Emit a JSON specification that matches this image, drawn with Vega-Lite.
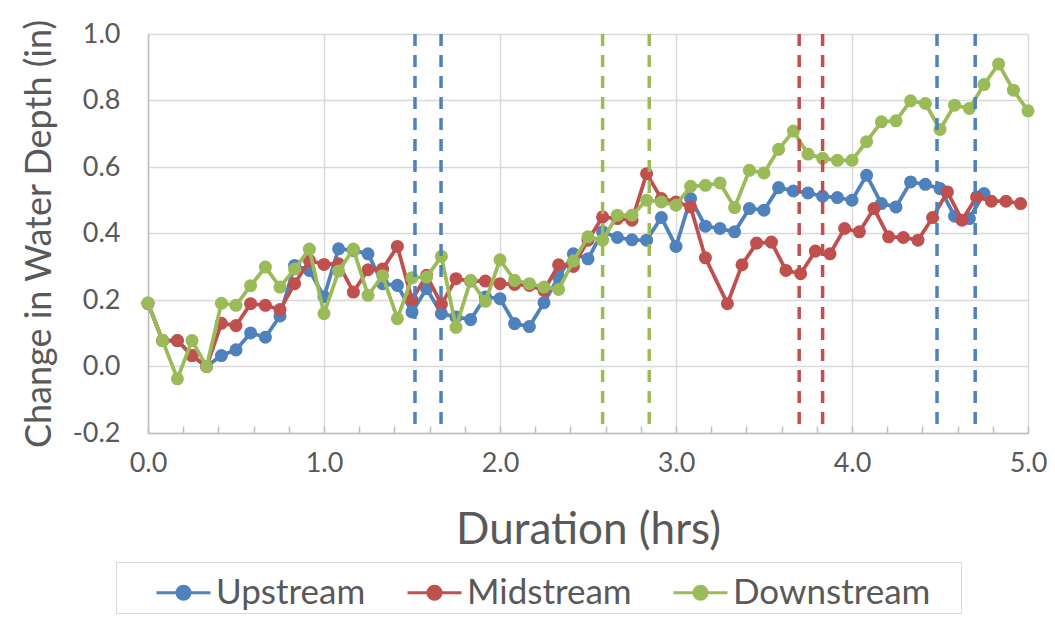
{
  "$schema": "https://vega.github.io/schema/vega-lite/v6.json",
  "width": 880,
  "height": 399,
  "autosize": {"type": "none"},
  "padding": {"left": 148, "top": 34, "right": 27, "bottom": 194},
  "background": "white",
  "config": {
    "view": {"stroke": null},
    "font": "Lato",
    "axis": {"labelFont": "Lato", "titleFont": "Lato", "labelColor": "#595959", "titleColor": "#595959", "titleFontWeight": "normal"}
  },
  "datasets": {
    "series": [
      {"t":0,"s":"Upstream","v":0.19},{"t":0.083,"s":"Upstream","v":0.078},{"t":0.167,"s":"Upstream","v":0.078},{"t":0.25,"s":"Upstream","v":0.033},{"t":0.333,"s":"Upstream","v":0.0},{"t":0.417,"s":"Upstream","v":0.033},{"t":0.5,"s":"Upstream","v":0.05},{"t":0.583,"s":"Upstream","v":0.101},{"t":0.667,"s":"Upstream","v":0.088},{"t":0.75,"s":"Upstream","v":0.152},{"t":0.833,"s":"Upstream","v":0.304},{"t":0.917,"s":"Upstream","v":0.289},{"t":1,"s":"Upstream","v":0.21},{"t":1.083,"s":"Upstream","v":0.354},{"t":1.167,"s":"Upstream","v":0.349},{"t":1.25,"s":"Upstream","v":0.339},{"t":1.333,"s":"Upstream","v":0.249},{"t":1.417,"s":"Upstream","v":0.244},{"t":1.5,"s":"Upstream","v":0.164},{"t":1.583,"s":"Upstream","v":0.234},{"t":1.667,"s":"Upstream","v":0.159},{"t":1.75,"s":"Upstream","v":0.149},{"t":1.833,"s":"Upstream","v":0.141},{"t":1.917,"s":"Upstream","v":0.209},{"t":2,"s":"Upstream","v":0.204},{"t":2.083,"s":"Upstream","v":0.129},{"t":2.167,"s":"Upstream","v":0.12},{"t":2.25,"s":"Upstream","v":0.192},{"t":2.333,"s":"Upstream","v":0.269},{"t":2.417,"s":"Upstream","v":0.339},{"t":2.5,"s":"Upstream","v":0.324},{"t":2.583,"s":"Upstream","v":0.405},{"t":2.667,"s":"Upstream","v":0.388},{"t":2.75,"s":"Upstream","v":0.381},{"t":2.833,"s":"Upstream","v":0.38},{"t":2.917,"s":"Upstream","v":0.448},{"t":3,"s":"Upstream","v":0.361},{"t":3.083,"s":"Upstream","v":0.505},{"t":3.167,"s":"Upstream","v":0.422},{"t":3.25,"s":"Upstream","v":0.415},{"t":3.333,"s":"Upstream","v":0.405},{"t":3.417,"s":"Upstream","v":0.475},{"t":3.5,"s":"Upstream","v":0.47},{"t":3.583,"s":"Upstream","v":0.538},{"t":3.667,"s":"Upstream","v":0.528},{"t":3.75,"s":"Upstream","v":0.522},{"t":3.833,"s":"Upstream","v":0.512},{"t":3.917,"s":"Upstream","v":0.508},{"t":4,"s":"Upstream","v":0.5},{"t":4.083,"s":"Upstream","v":0.575},{"t":4.167,"s":"Upstream","v":0.49},{"t":4.25,"s":"Upstream","v":0.48},{"t":4.333,"s":"Upstream","v":0.555},{"t":4.417,"s":"Upstream","v":0.548},{"t":4.5,"s":"Upstream","v":0.535},{"t":4.583,"s":"Upstream","v":0.452},{"t":4.667,"s":"Upstream","v":0.445},{"t":4.75,"s":"Upstream","v":0.52},
      {"t":0,"s":"Midstream","v":0.19},{"t":0.083,"s":"Midstream","v":0.078},{"t":0.167,"s":"Midstream","v":0.078},{"t":0.25,"s":"Midstream","v":0.033},{"t":0.333,"s":"Midstream","v":0.0},{"t":0.417,"s":"Midstream","v":0.13},{"t":0.5,"s":"Midstream","v":0.123},{"t":0.583,"s":"Midstream","v":0.189},{"t":0.667,"s":"Midstream","v":0.184},{"t":0.75,"s":"Midstream","v":0.171},{"t":0.833,"s":"Midstream","v":0.249},{"t":0.917,"s":"Midstream","v":0.319},{"t":1,"s":"Midstream","v":0.307},{"t":1.083,"s":"Midstream","v":0.309},{"t":1.167,"s":"Midstream","v":0.224},{"t":1.25,"s":"Midstream","v":0.291},{"t":1.333,"s":"Midstream","v":0.293},{"t":1.417,"s":"Midstream","v":0.361},{"t":1.5,"s":"Midstream","v":0.201},{"t":1.583,"s":"Midstream","v":0.274},{"t":1.667,"s":"Midstream","v":0.187},{"t":1.75,"s":"Midstream","v":0.264},{"t":1.833,"s":"Midstream","v":0.257},{"t":1.917,"s":"Midstream","v":0.257},{"t":2,"s":"Midstream","v":0.249},{"t":2.083,"s":"Midstream","v":0.247},{"t":2.167,"s":"Midstream","v":0.244},{"t":2.25,"s":"Midstream","v":0.229},{"t":2.333,"s":"Midstream","v":0.306},{"t":2.417,"s":"Midstream","v":0.301},{"t":2.5,"s":"Midstream","v":0.38},{"t":2.583,"s":"Midstream","v":0.45},{"t":2.667,"s":"Midstream","v":0.445},{"t":2.75,"s":"Midstream","v":0.44},{"t":2.833,"s":"Midstream","v":0.58},{"t":2.917,"s":"Midstream","v":0.505},{"t":3,"s":"Midstream","v":0.495},{"t":3.083,"s":"Midstream","v":0.48},{"t":3.167,"s":"Midstream","v":0.327},{"t":3.292,"s":"Midstream","v":0.189},{"t":3.375,"s":"Midstream","v":0.306},{"t":3.458,"s":"Midstream","v":0.371},{"t":3.542,"s":"Midstream","v":0.374},{"t":3.625,"s":"Midstream","v":0.289},{"t":3.708,"s":"Midstream","v":0.279},{"t":3.792,"s":"Midstream","v":0.347},{"t":3.875,"s":"Midstream","v":0.339},{"t":3.958,"s":"Midstream","v":0.415},{"t":4.042,"s":"Midstream","v":0.405},{"t":4.125,"s":"Midstream","v":0.475},{"t":4.208,"s":"Midstream","v":0.39},{"t":4.292,"s":"Midstream","v":0.388},{"t":4.375,"s":"Midstream","v":0.38},{"t":4.458,"s":"Midstream","v":0.448},{"t":4.542,"s":"Midstream","v":0.525},{"t":4.625,"s":"Midstream","v":0.44},{"t":4.708,"s":"Midstream","v":0.51},{"t":4.792,"s":"Midstream","v":0.497},{"t":4.875,"s":"Midstream","v":0.497},{"t":4.958,"s":"Midstream","v":0.49},
      {"t":0,"s":"Downstream","v":0.191},{"t":0.083,"s":"Downstream","v":0.078},{"t":0.167,"s":"Downstream","v":-0.037},{"t":0.25,"s":"Downstream","v":0.078},{"t":0.333,"s":"Downstream","v":0.0},{"t":0.417,"s":"Downstream","v":0.19},{"t":0.5,"s":"Downstream","v":0.184},{"t":0.583,"s":"Downstream","v":0.243},{"t":0.667,"s":"Downstream","v":0.299},{"t":0.75,"s":"Downstream","v":0.239},{"t":0.833,"s":"Downstream","v":0.293},{"t":0.917,"s":"Downstream","v":0.353},{"t":1,"s":"Downstream","v":0.159},{"t":1.083,"s":"Downstream","v":0.287},{"t":1.167,"s":"Downstream","v":0.353},{"t":1.25,"s":"Downstream","v":0.214},{"t":1.333,"s":"Downstream","v":0.273},{"t":1.417,"s":"Downstream","v":0.144},{"t":1.5,"s":"Downstream","v":0.267},{"t":1.583,"s":"Downstream","v":0.269},{"t":1.667,"s":"Downstream","v":0.331},{"t":1.75,"s":"Downstream","v":0.118},{"t":1.833,"s":"Downstream","v":0.259},{"t":1.917,"s":"Downstream","v":0.196},{"t":2,"s":"Downstream","v":0.321},{"t":2.083,"s":"Downstream","v":0.259},{"t":2.167,"s":"Downstream","v":0.249},{"t":2.25,"s":"Downstream","v":0.239},{"t":2.333,"s":"Downstream","v":0.232},{"t":2.417,"s":"Downstream","v":0.317},{"t":2.5,"s":"Downstream","v":0.39},{"t":2.583,"s":"Downstream","v":0.38},{"t":2.667,"s":"Downstream","v":0.455},{"t":2.75,"s":"Downstream","v":0.455},{"t":2.833,"s":"Downstream","v":0.5},{"t":2.917,"s":"Downstream","v":0.495},{"t":3,"s":"Downstream","v":0.485},{"t":3.083,"s":"Downstream","v":0.542},{"t":3.167,"s":"Downstream","v":0.545},{"t":3.25,"s":"Downstream","v":0.552},{"t":3.333,"s":"Downstream","v":0.478},{"t":3.417,"s":"Downstream","v":0.59},{"t":3.5,"s":"Downstream","v":0.582},{"t":3.583,"s":"Downstream","v":0.653},{"t":3.667,"s":"Downstream","v":0.708},{"t":3.75,"s":"Downstream","v":0.639},{"t":3.833,"s":"Downstream","v":0.626},{"t":3.917,"s":"Downstream","v":0.62},{"t":4,"s":"Downstream","v":0.62},{"t":4.083,"s":"Downstream","v":0.676},{"t":4.167,"s":"Downstream","v":0.736},{"t":4.25,"s":"Downstream","v":0.739},{"t":4.333,"s":"Downstream","v":0.799},{"t":4.417,"s":"Downstream","v":0.791},{"t":4.5,"s":"Downstream","v":0.713},{"t":4.583,"s":"Downstream","v":0.786},{"t":4.667,"s":"Downstream","v":0.776},{"t":4.75,"s":"Downstream","v":0.848},{"t":4.833,"s":"Downstream","v":0.91},{"t":4.917,"s":"Downstream","v":0.831},{"t":5,"s":"Downstream","v":0.769}
    ],
    "events": [
      {"t":1.517,"s":"Upstream"},{"t":1.665,"s":"Upstream"},
      {"t":2.583,"s":"Downstream"},{"t":2.848,"s":"Downstream"},
      {"t":3.7,"s":"Midstream"},{"t":3.833,"s":"Midstream"},
      {"t":4.483,"s":"Upstream"},{"t":4.7,"s":"Upstream"}
    ]
  },
  "encoding": {
    "x": {
      "field": "t", "type": "quantitative",
      "scale": {"domain": [0, 5], "nice": false, "zero": false},
      "axis": {
        "title": "Duration (hrs)", "titleFontSize": 44, "titlePadding": 32,
        "values": [0,0.2,0.4,0.6,0.8,1,1.2,1.4,1.6,1.8,2,2.2,2.4,2.6,2.8,3,3.2,3.4,3.6,3.8,4,4.2,4.4,4.6,4.8,5],
        "labelExpr": "datum.value % 1 === 0 ? format(datum.value, '.1f') : ''",
        "labelFontSize": 27, "labelPadding": 24, "labelFlush": false, "labelOverlap": false,
        "ticks": true, "tickSize": -7, "tickColor": "#bfbfbf", "tickWidth": 1.5,
        "grid": true, "gridColor": "#d9d9d9", "gridWidth": 1.5,
        "gridOpacity": {"condition": {"test": "datum.value % 1 !== 0", "value": 0}, "value": 1},
        "domainColor": "#bfbfbf", "domainWidth": 1.5
      }
    },
    "color": {
      "field": "s", "type": "nominal",
      "scale": {"domain": ["Upstream", "Midstream", "Downstream"], "range": ["#4F81BD", "#C0504D", "#9BBB59"]},
      "legend": {
        "title": "MMM", "titleOrient": "right", "titleFontSize": 10, "titlePadding": 0, "titleOpacity": 0,
        "orient": "none", "legendX": -32, "legendY": 528,
        "direction": "horizontal", "columns": 3, "columnPadding": 3,
        "symbolType": "M-1,0H1M-0.24,0A0.24,0.24,0,1,1,0.24,0A0.24,0.24,0,1,1,-0.24,0Z",
        "symbolSize": 2916, "symbolStrokeWidth": 3, "symbolOffset": 37,
        "labelFontSize": 35, "labelColor": "#595959", "labelFont": "Lato", "labelOffset": 4, "labelLimit": 400,
        "strokeColor": "#d9d9d9", "padding": 2,
        "encode": {"symbols": {"update": {"fill": {"scale": "color", "field": "value"}, "stroke": {"scale": "color", "field": "value"}, "strokeWidth": {"value": 3}, "opacity": {"value": 1}}}}
      }
    }
  },
  "layer": [
    {"data": {"name": "series"}, "transform": [{"filter": "datum.s === 'Upstream'"}], "mark": {"type": "line", "strokeWidth": 3.75},
     "encoding": {"y": {"field": "v", "type": "quantitative", "scale": {"domain": [-0.2, 1.0], "nice": false, "zero": false},
       "axis": {"title": "Change in Water Depth (in)", "titleFontSize": 36, "titlePadding": 14, "values": [-0.2,0,0.2,0.4,0.6,0.8,1.0],
         "labelExpr": "datum.value < 0 ? '-' + format(-datum.value, '.1f') : format(datum.value, '.1f')", "labelFontSize": 27, "labelPadding": 28,
         "ticks": false, "grid": true, "gridColor": "#d9d9d9", "gridWidth": 1.5, "domainColor": "#bfbfbf", "domainWidth": 1.5}}}},
    {"data": {"name": "series"}, "transform": [{"filter": "datum.s === 'Upstream'"}], "mark": {"type": "point", "filled": true, "size": 170, "opacity": 1},
     "encoding": {"y": {"field": "v", "type": "quantitative"}}},
    {"data": {"name": "series"}, "transform": [{"filter": "datum.s === 'Midstream'"}], "mark": {"type": "line", "strokeWidth": 3.75},
     "encoding": {"y": {"field": "v", "type": "quantitative"}}},
    {"data": {"name": "series"}, "transform": [{"filter": "datum.s === 'Midstream'"}], "mark": {"type": "point", "filled": true, "size": 170, "opacity": 1},
     "encoding": {"y": {"field": "v", "type": "quantitative"}}},
    {"data": {"name": "series"}, "transform": [{"filter": "datum.s === 'Downstream'"}], "mark": {"type": "line", "strokeWidth": 3.75},
     "encoding": {"y": {"field": "v", "type": "quantitative"}}},
    {"data": {"name": "series"}, "transform": [{"filter": "datum.s === 'Downstream'"}], "mark": {"type": "point", "filled": true, "size": 170, "opacity": 1},
     "encoding": {"y": {"field": "v", "type": "quantitative"}}},
    {"data": {"name": "events"}, "mark": {"type": "rule", "strokeWidth": 3.5, "strokeDash": [12, 9]}, "encoding": {}}
  ]
}
